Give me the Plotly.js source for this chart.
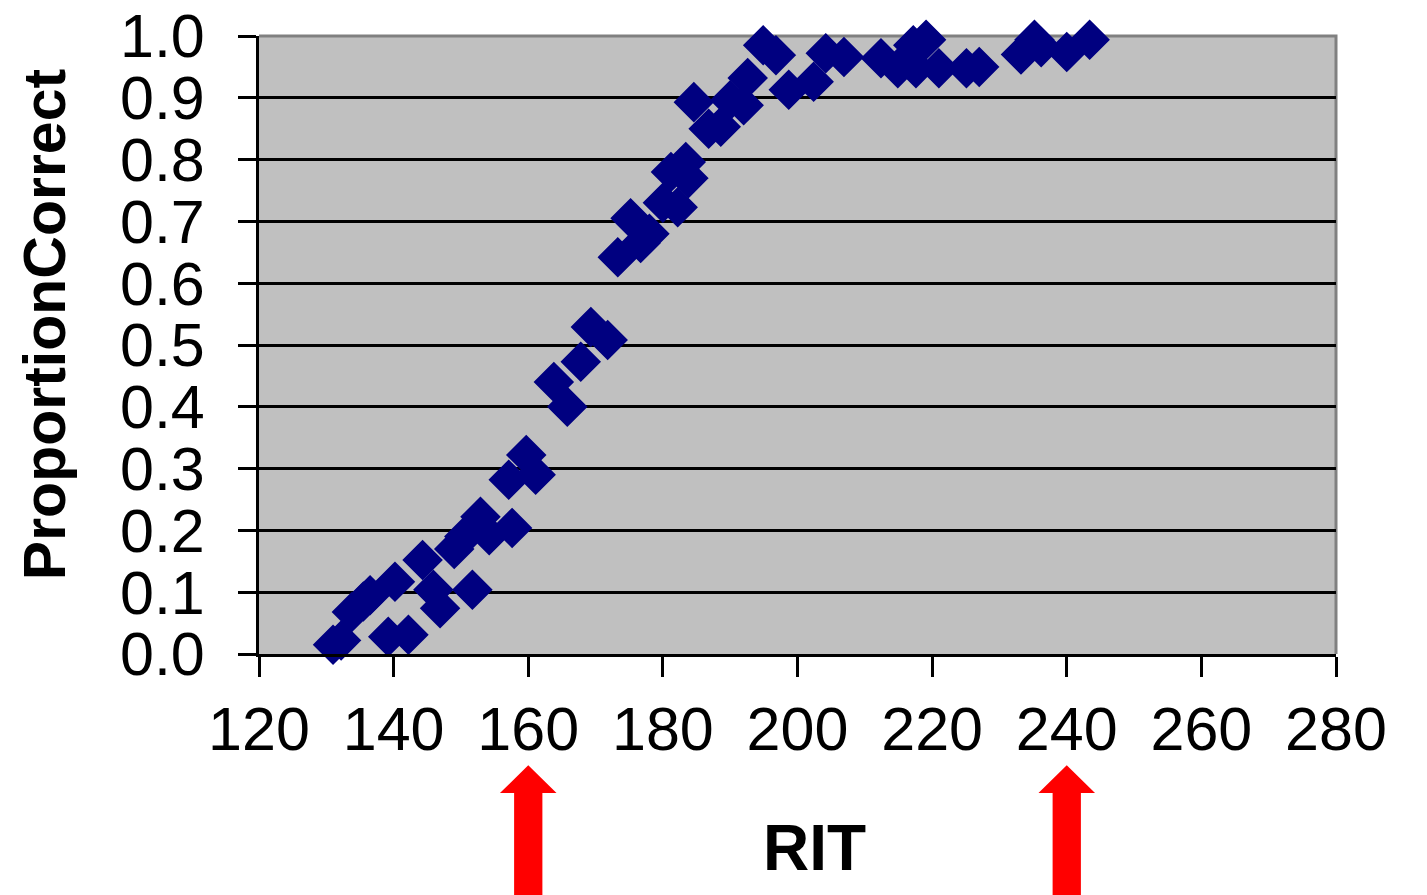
<!DOCTYPE html>
<html>
<head>
<meta charset="utf-8">
<script src="https://cdn.plot.ly/plotly-3.0.1.min.js"></script>
<style>
  html, body { margin: 0; padding: 0; background: #ffffff; }
  #chart { width: 1427px; height: 895px; }
</style>
</head>
<body>
<div id="chart"></div>
<script>
// RIT score of each item group and proportion of correct answers
const rit = [
  131.0, 132.2, 133.8, 135.5, 136.5, 139.2, 140.2, 142.2, 144.3, 145.9,
  146.9, 149.0, 150.5, 151.7, 152.9, 154.2, 157.1, 157.6, 159.7, 161.1,
  163.8, 165.8, 167.8, 169.3, 171.8, 173.3, 175.2, 176.7, 178.0, 180.0,
  181.2, 182.2, 183.4, 183.8, 184.6, 186.8, 188.6, 190.0, 192.0, 192.6,
  194.9, 196.8, 198.7, 202.4, 204.2, 206.9, 212.4, 214.9, 217.2, 217.6,
  219.1, 221.0, 225.1, 227.0, 233.2, 235.2, 236.2, 240.0, 243.4
];
const proportionCorrect = [
  0.015, 0.022, 0.068, 0.085, 0.095, 0.028, 0.117, 0.031, 0.152, 0.104,
  0.074, 0.170, 0.190, 0.104, 0.222, 0.192, 0.282, 0.204, 0.322, 0.290,
  0.440, 0.400, 0.473, 0.529, 0.508, 0.642, 0.705, 0.665, 0.680, 0.730,
  0.780, 0.723, 0.796, 0.770, 0.893, 0.850, 0.853, 0.896, 0.888, 0.932,
  0.985, 0.969, 0.913, 0.926, 0.972, 0.966, 0.964, 0.948, 0.985, 0.948,
  0.994, 0.948, 0.948, 0.950, 0.970, 0.994, 0.982, 0.974, 0.994
];

const xTicks = [120, 140, 160, 180, 200, 220, 240, 260, 280];
const yTicks = [0.0, 0.1, 0.2, 0.3, 0.4, 0.5, 0.6, 0.7, 0.8, 0.9, 1.0];
const xTickLabels = ["120", "140", "160", "180", "200", "220", "240", "260", "280"];
const yTickLabels = ["0.0", "0.1", "0.2", "0.3", "0.4", "0.5", "0.6", "0.7", "0.8", "0.9", "1.0"];

// RIT values marked by red arrows below the axis
const arrowRit = [160, 240];

const xTitle = "RIT";
const yTitle = "ProportionCorrect";

// Arrow geometry (x half-widths in RIT units, y in paper fraction)
const headHalf = 4.2, shaftHalf = 2.1;
const tipY = -0.18, neckY = -0.225, baseY = -0.40;

const arrowShapes = arrowRit.map(function (c) {
  const p = [
    [c, tipY], [c + headHalf, neckY], [c + shaftHalf, neckY], [c + shaftHalf, baseY],
    [c - shaftHalf, baseY], [c - shaftHalf, neckY], [c - headHalf, neckY]
  ];
  return {
    type: 'path', xref: 'x', yref: 'paper',
    path: 'M' + p.map(function (q) { return q[0] + ',' + q[1]; }).join('L') + 'Z',
    fillcolor: '#ff0000', line: { width: 0 }
  };
});

const borderShape = {
  type: 'path', xref: 'paper', yref: 'paper',
  path: 'M0,1L1,1L1,0',
  line: { color: '#808080', width: 3 }, layer: 'below'
};

const trace = {
  type: 'scatter', mode: 'markers',
  x: rit, y: proportionCorrect,
  marker: { symbol: 'diamond', size: 29, color: '#000080', line: { color: '#000080', width: 2 } },
  cliponaxis: false,
  hoverinfo: 'x+y'
};

const font = 'Liberation Sans, Arial, sans-serif';

const layout = {
  width: 1427, height: 895,
  paper_bgcolor: '#ffffff', plot_bgcolor: '#c0c0c0',
  margin: { l: 259, r: 91, t: 36, b: 241, pad: 0 },
  showlegend: false,
  font: { family: font, color: '#000000' },
  xaxis: {
    range: [120, 280], tickvals: xTicks, ticktext: xTickLabels,
    showgrid: false, zeroline: false,
    showline: true, linecolor: '#000000', linewidth: 3,
    ticks: 'outside', ticklen: 20, tickwidth: 3, tickcolor: '#000000',
    tickfont: { family: font, size: 61, color: '#000000' },
    ticklabelstandoff: 0,
    automargin: false
  },
  yaxis: {
    range: [0, 1], tickvals: yTicks, ticktext: yTickLabels,
    showgrid: true, gridcolor: '#000000', gridwidth: 3,
    zeroline: false,
    showline: true, linecolor: '#000000', linewidth: 3,
    ticks: 'outside', ticklen: 18, tickwidth: 3, tickcolor: '#000000',
    tickfont: { family: font, size: 61, color: '#000000' },
    ticklabelstandoff: 21,
    automargin: false
  },
  annotations: [
    {
      text: '<b>' + xTitle + '</b>', xref: 'paper', yref: 'paper',
      x: 0.516, y: -0.314, xanchor: 'center', yanchor: 'middle', showarrow: false,
      font: { family: font, size: 64, color: '#000000' }
    },
    {
      text: '<b>' + yTitle + '</b>', xref: 'paper', yref: 'paper', textangle: -90,
      x: -0.1987, y: 0.532, xanchor: 'center', yanchor: 'middle', showarrow: false,
      font: { family: font, size: 59, color: '#000000' }
    }
  ],
  shapes: [borderShape].concat(arrowShapes)
};

Plotly.newPlot('chart', [trace], layout, { displayModeBar: false, staticPlot: true });
</script>
</body>
</html>
